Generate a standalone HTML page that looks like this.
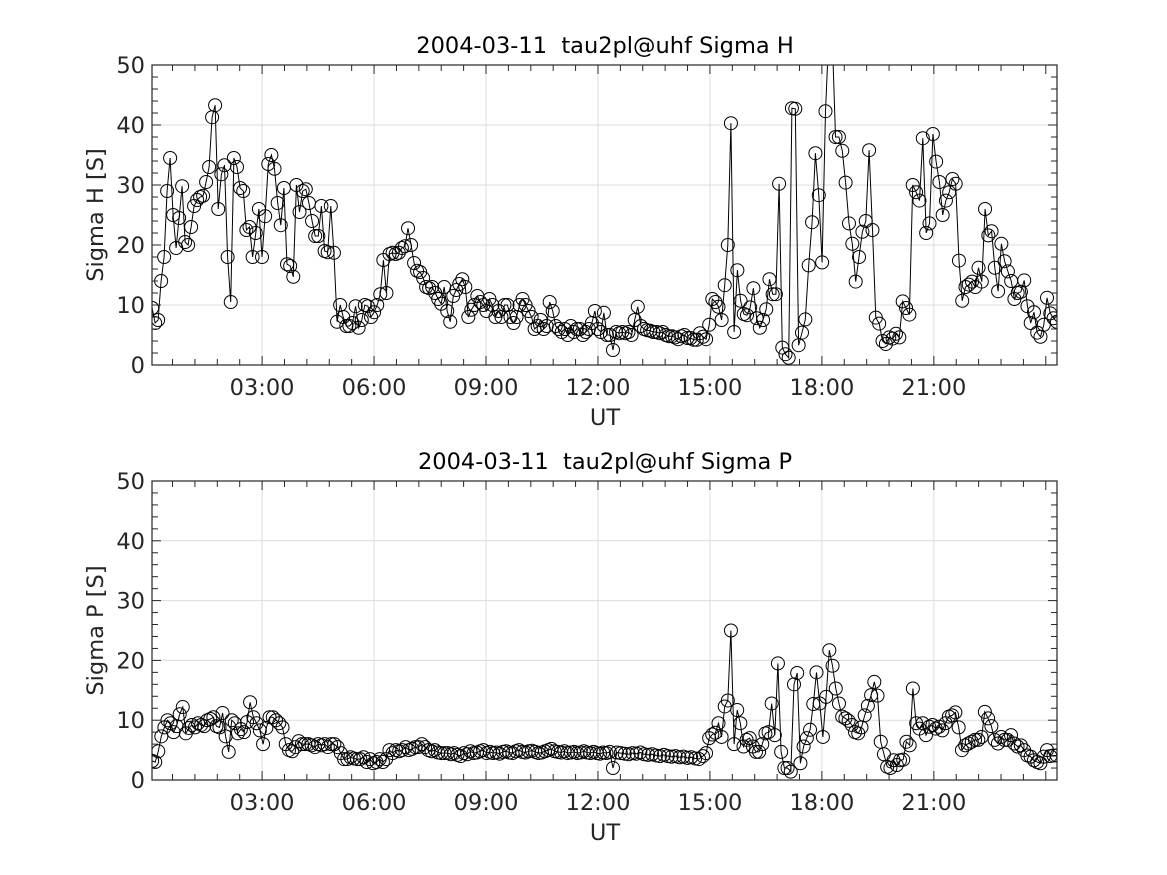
<!DOCTYPE html>
<html><head><meta charset="utf-8">
<style>
html,body{margin:0;padding:0;background:#fff;}
svg{display:block;font-family:"DejaVu Sans","Liberation Sans",sans-serif;}
text{white-space:pre;}
</style></head>
<body>
<svg id="fig" width="1167" height="875" viewBox="0 0 1167 875" xmlns="http://www.w3.org/2000/svg">
<rect width="1167" height="875" fill="#fff"/>
</svg>
<script>
const xTickLabels = ["03:00","06:00","09:00","12:00","15:00","18:00","21:00"];
const xTickHours = [3,6,9,12,15,18,21];
const yTickValues = [0,10,20,30,40,50];
const sigmaH = [9.5,7,7.5,14,18,29,34.5,25,19.5,24.5,29.8,20.5,20,23,26.5,27.5,28,28.2,30.5,33,41.3,43.3,26,31.8,33.3,18,10.5,34.5,33,29.5,29,22.5,23,18,22,26,18,24.8,33.5,35,32.7,27,23.3,29.5,16.8,16.5,14.7,30,25.5,29,29.3,27,24,21.5,21.5,26.5,19,18.8,26.5,18.7,7.2,10,8,6.5,6.5,7,9.8,6.2,7.5,10,9.8,8,8.8,10,11.8,17.5,12,18.5,18.7,18.5,18.7,19.5,19.8,22.8,20,17,15.7,15.5,14.5,13,12.8,13,12,11,10.2,13,9,7.2,11.5,12.5,13.5,14.3,13,8,9.2,10,11.5,10.5,10,9,11,10,8,9,8,10,10,8,7,8,10,11,10,9,8,6,6.5,7.5,6,6.5,10.5,9,6.5,6,5.5,6,5,6.5,5.5,6,6,5,5.5,6,7,9,6,5.5,8.7,5,5,2.5,5.5,5.3,5.5,5.3,5.5,5,7.5,9.7,6.5,6,5.8,5.7,5.5,5.5,5.3,5.5,5,4.8,4.8,4.6,4.3,4.8,5,4.5,4.5,4.2,4.2,5.3,4.7,4.3,6.7,11,10.5,9.7,7.5,13.3,20,40.3,5.5,15.8,10.7,8.5,8.3,9.6,12.8,7.8,6.2,7.5,9.3,14.3,11.8,11.8,30.2,2.9,1.8,1.2,42.8,42.7,3.3,5.4,7.6,16.6,23.8,35.3,28.3,17.1,42.3,55,55,38,38,35.7,30.4,23.6,20.2,13.9,18,22.2,24,35.8,22.5,7.9,6.9,4,3.5,4.6,4.4,5.2,4.6,10.6,9.5,8.4,30,28.8,27.4,37.8,22,23.6,38.5,33.9,30.5,25,27.4,28.8,31,30.2,17.4,10.7,13,13.4,13.9,13,16.2,13.9,26,21.6,22.3,16.2,12.3,20.2,17.3,15.6,14,11,12,12.2,14.1,9.8,7,8.8,5.4,4.7,6.7,11.2,8.6,7.8,7.2];
// sample-index -> UT hour anchors (times between anchors are evenly spaced)
const sigmaHAnchorIdx = [0,21,60,83,151,189,208,250,288];
const sigmaHAnchorHour = [0.054,1.741,5.009,6.911,12.402,15.563,17.197,20.974,24.295];
const sigmaP = [3.2,3,4.8,7.3,8.8,10,9.5,8,9,11,12.2,7.8,8.7,9.2,8.8,9.5,9.2,9,10,10.2,10.5,9,8.8,11.2,7.3,4.7,10,9.5,7.8,8.5,8,9.7,13,10.5,9.5,8.3,6,8.7,10.5,10.5,10,9.5,8.8,6,5,4.8,5.5,6.5,6,6,6,5.8,5.5,6,5.8,6,5.5,6,6,5.5,4.5,3.5,3.5,3.8,3.6,3.5,3.5,3.8,3,3.5,2.8,3,3.5,3,3.5,5,4.5,5,4.8,5,5.5,5,5.2,5.5,5.5,6,5.5,5,4.8,5,4.6,4.5,4.5,4.5,4.3,4.5,4.2,4,4.5,4.3,4.8,4.5,4.6,4.8,5,4.5,4.7,4.5,4.6,4.4,4.7,4.8,4.6,4.5,4.8,5,4.7,4.6,4.8,4.9,4.7,4.5,4.6,4.8,5,5.2,4.8,4.7,4.6,4.8,4.5,4.6,4.7,4.5,4.6,4.8,4.6,4.5,4.7,4.5,4.4,4.6,4.5,4.7,2,4.6,4.5,4.4,4.3,4.5,4.4,4.6,4.3,4.2,4.3,4.1,4,4.2,4,3.9,4,3.8,3.9,3.7,3.8,3.6,3.5,4,4.5,7,7.6,7.9,9.5,7.2,12.3,13.3,25,6,11.7,9.5,5.6,6.7,7,5.6,4.7,4.7,6,7.8,8,12.8,7.5,19.5,4.7,2,2,1.4,16,17.9,2.8,5.6,7,8.4,12.7,18,12.8,7.2,13.9,21.7,19.1,15.3,12.8,10.6,10.3,9.9,9.2,8,7.8,8.8,10.8,12.4,14.2,16.4,14.1,6.4,4.3,2.2,2,3.3,2.5,3.3,3.4,6.4,5.8,15.3,9.5,8.6,9.5,7.5,8.9,9.2,8.6,8.9,8.3,9.5,10.6,10.8,11.3,8.8,5,5.8,6.1,6.4,6.7,6.7,7.2,11.4,10.3,9,6.7,6.1,7.2,6.7,6.7,7.5,6.1,5.6,5.8,5,4.1,3.9,3.3,3,2.8,3.9,5,4,4.1,4.1];
const sigmaPAnchorIdx = [0,32,144,167,176,191,233,277];
const sigmaPAnchorHour = [0.054,2.679,12.402,14.813,15.563,16.822,20.438,24.295];

const NS = "http://www.w3.org/2000/svg";
const svg = document.getElementById('fig');
function mk(tag, attrs, parent){const e=document.createElementNS(NS,tag);for(const k in attrs)e.setAttribute(k,attrs[k]);(parent||svg).appendChild(e);return e;}

const X0=152, X1=1057;
const xMin=0.05, xMax=24.3;
function xScale(h){return X0+(h-xMin)/(xMax-xMin)*(X1-X0);}
function sampleTimes(n, aIdx, aHour){
  const t=[];
  for(let i=0;i<n;i++){
    let k=0; while(k<aIdx.length-2 && i>aIdx[k+1]) k++;
    const f=(i-aIdx[k])/(aIdx[k+1]-aIdx[k]);
    t.push(aHour[k]+f*(aHour[k+1]-aHour[k]));
  }
  return t;
}

function panel(top, bottom, title, ylabel, values, times, key){
  const g=mk('g',{});
  
  
  const yScale=v=>bottom-(v/50)*(bottom-top);
  xTickHours.forEach(h=>{mk('line',{x1:xScale(h),x2:xScale(h),y1:top,y2:bottom,stroke:'#dcdcdc','stroke-width':1},g);});
  yTickValues.forEach(v=>{mk('line',{x1:X0,x2:X1,y1:yScale(v),y2:yScale(v),stroke:'#dcdcdc','stroke-width':1},g);});
  const cp=mk('clipPath',{id:'clip-'+key},g);
  mk('rect',{x:X0,y:top,width:X1-X0,height:bottom-top},cp);
  const dg=mk('g',{'clip-path':'url(#clip-'+key+')'},g);
  const pts=values.map((v,i)=>xScale(times[i]).toFixed(1)+','+yScale(v).toFixed(1)).join(' ');
  const line=mk('polyline',{points:pts,fill:'none',stroke:'#000','stroke-width':1},dg);
  
  
  values.forEach((v,i)=>{
    const c=mk('circle',{cx:xScale(times[i]),cy:yScale(v),r:6.5,fill:'none',stroke:'#000','stroke-width':1},dg);
    
    
  });
  for(let h=0.6;h<24.3;h+=0.6){
    const x=xScale(h);const major=Math.abs(h/3-Math.round(h/3))<0.01;const L=major?9:6;
    mk('line',{x1:x,x2:x,y1:bottom,y2:bottom-L,stroke:'#262626'},g);
    mk('line',{x1:x,x2:x,y1:top,y2:top+L,stroke:'#262626'},g);
  }
  for(let v=0;v<=50;v+=2){
    const y=yScale(v);const L=(v%10===0)?9:6;
    mk('line',{x1:X0,x2:X0+L,y1:y,y2:y,stroke:'#262626'},g);
    mk('line',{x1:X1,x2:X1-L,y1:y,y2:y,stroke:'#262626'},g);
  }
  const box=mk('rect',{x:X0,y:top,width:X1-X0,height:bottom-top,fill:'none',stroke:'#262626','stroke-width':1.2},g);
  
  
  yTickValues.forEach(v=>{
    const t=mk('text',{x:X0-7,y:yScale(v)+8,'text-anchor':'end','font-size':22.5,fill:'#262626'},g);t.textContent=v;
    
    
  });
  xTickHours.forEach((h,i)=>{
    const t=mk('text',{x:xScale(h),y:bottom+30,'text-anchor':'middle','font-size':22.5,fill:'#262626'},g);t.textContent=xTickLabels[i];
    
    
  });
  const xl=mk('text',{x:605,y:bottom+60,'text-anchor':'middle','font-size':22.5,fill:'#262626'},g);xl.textContent='UT';
  
  
  const cy=(top+bottom)/2;
  const yl=mk('text',{x:103,y:cy,'text-anchor':'middle','font-size':22.5,fill:'#262626',transform:'rotate(-90 103 '+cy+')'},g);yl.textContent=ylabel;
  
  
  const tt=mk('text',{x:605,y:top-12,'text-anchor':'middle','font-size':22.5,fill:'#000'},g);tt.textContent=title;
  
  
}
panel(65,365,'2004-03-11  tau2pl@uhf Sigma H','Sigma H [S]',sigmaH,sampleTimes(sigmaH.length,sigmaHAnchorIdx,sigmaHAnchorHour),'sigma-h');
panel(481,780,'2004-03-11  tau2pl@uhf Sigma P','Sigma P [S]',sigmaP,sampleTimes(sigmaP.length,sigmaPAnchorIdx,sigmaPAnchorHour),'sigma-p');
</script>
</body></html>
